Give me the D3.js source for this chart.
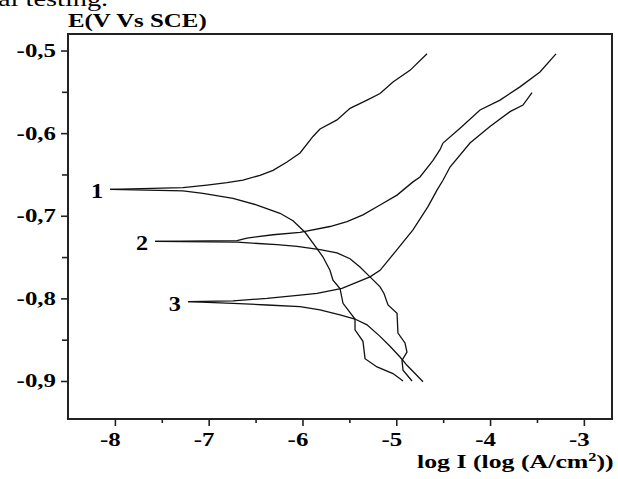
<!DOCTYPE html>
<html><head><meta charset="utf-8">
<script src="https://cdn.jsdelivr.net/npm/d3@7"></script>
<style>body{margin:0;background:#fff} svg{display:block}</style>
</head><body><svg id="c" width="618" height="479"></svg>
<script>
// ---- data (log I in log(A/cm2), E in V vs SCE) ----
const xTicks = [-8, -7, -6, -5, -4, -3];
const xMinorTicks = [-7.5, -6.5, -5.5, -4.5, -3.5];
const yTicks = [-0.5, -0.6, -0.7, -0.8, -0.9];
const yMinorTicks = [-0.55, -0.65, -0.75, -0.85];
const yTickLabels = ["-0,5", "-0,6", "-0,7", "-0,8", "-0,9"];
const curveLabels = ["1", "2", "3"];

const c1Anodic = [[-8.052,-0.668],[-7.274,-0.666],[-7.018,-0.663],[-6.805,-0.660],[-6.634,-0.657],[-6.453,-0.651],
  [-6.314,-0.645],[-6.165,-0.635],[-6.026,-0.624],[-5.888,-0.604],[-5.813,-0.595],[-5.632,-0.584],[-5.493,-0.570],
  [-5.312,-0.560],[-5.173,-0.552],[-5.035,-0.538],[-4.854,-0.524],[-4.672,-0.504]];
const c1Cathodic = [[-8.052,-0.668],[-7.274,-0.670],[-7.061,-0.673],[-6.741,-0.679],[-6.485,-0.687],[-6.240,-0.697],
  [-6.101,-0.706],[-5.973,-0.720],[-5.888,-0.733],[-5.781,-0.750],[-5.707,-0.766],[-5.675,-0.778],[-5.600,-0.788],
  [-5.568,-0.806],[-5.440,-0.825],[-5.440,-0.838],[-5.355,-0.852],[-5.333,-0.873],[-5.205,-0.883],[-5.035,-0.891],[-4.928,-0.900]];
const c2Anodic = [[-7.572,-0.731],[-6.698,-0.730],[-6.591,-0.727],[-6.314,-0.723],[-6.026,-0.720],[-5.707,-0.713],
  [-5.525,-0.707],[-5.355,-0.699],[-5.173,-0.687],[-4.992,-0.675],[-4.822,-0.659],[-4.747,-0.653],[-4.608,-0.633],
  [-4.534,-0.620],[-4.502,-0.612],[-4.320,-0.594],[-4.107,-0.572],[-3.894,-0.560],[-3.681,-0.544],[-3.468,-0.526],[-3.297,-0.504]];
const c2Cathodic = [[-7.572,-0.731],[-6.698,-0.732],[-6.272,-0.735],[-6.058,-0.737],[-5.813,-0.741],[-5.632,-0.745],
  [-5.493,-0.752],[-5.387,-0.762],[-5.280,-0.774],[-5.173,-0.786],[-5.131,-0.794],[-5.088,-0.808],[-4.992,-0.818],
  [-4.982,-0.842],[-4.907,-0.854],[-4.886,-0.865],[-4.939,-0.875],[-4.928,-0.887],[-4.832,-0.900]];
const c3Anodic = [[-7.221,-0.804],[-6.741,-0.803],[-6.378,-0.800],[-6.026,-0.796],[-5.845,-0.794],[-5.579,-0.788],
  [-5.280,-0.774],[-5.173,-0.766],[-4.992,-0.741],[-4.822,-0.717],[-4.662,-0.689],[-4.566,-0.669],[-4.502,-0.657],
  [-4.427,-0.641],[-4.214,-0.612],[-4.001,-0.592],[-3.787,-0.574],[-3.649,-0.566],[-3.553,-0.551]];
const c3Cathodic = [[-7.221,-0.804],[-6.741,-0.806],[-6.378,-0.808],[-6.026,-0.810],[-5.813,-0.814],[-5.600,-0.820],
  [-5.440,-0.825],[-5.312,-0.832],[-5.173,-0.846],[-5.067,-0.858],[-4.960,-0.871],[-4.886,-0.881],[-4.800,-0.891],[-4.715,-0.901]];

const curves = [c1Anodic, c1Cathodic, c2Anodic, c2Cathodic, c3Anodic, c3Cathodic];
const labelAnchors = [c1Anodic[0], c2Anodic[0], c3Anodic[0]];

// ---- drawing ----
const svg = d3.select("#c");
const x = d3.scaleLinear([-8.5, -2.7], [68, 612]);
const y = d3.scaleLinear([-0.946, -0.48], [419, 34]);
const serif = "'Liberation Serif','Times New Roman',serif";
const SX = 1.31;

// cut-off text from the page above
svg.append("text").attr("transform", "translate(-2,6) scale(1.35,1)")
  .attr("font-family", serif).attr("font-size", 21).attr("fill", "#000").text("al testing.");

// axes ticks
const gx = svg.append("g").attr("transform", "translate(0,419)");
gx.call(d3.axisBottom(x).tickValues(xTicks).tickSize(7).tickFormat(""));
gx.append("g").call(d3.axisBottom(x).tickValues(xMinorTicks).tickSize(4).tickFormat(""));
const gy = svg.append("g").attr("transform", "translate(68,0)");
gy.call(d3.axisLeft(y).tickValues(yTicks).tickSize(7).tickFormat(""));
gy.append("g").call(d3.axisLeft(y).tickValues(yMinorTicks).tickSize(6).tickFormat(""));
svg.selectAll(".domain").remove();
svg.selectAll(".tick line").attr("stroke", "#222").attr("stroke-width", 1.6);

// frame
svg.append("rect").attr("x", x(-8.5)).attr("y", y(-0.48))
  .attr("width", x(-2.7) - x(-8.5)).attr("height", y(-0.946) - y(-0.48))
  .attr("fill", "none").attr("stroke", "#222").attr("stroke-width", 2);

// tick labels
svg.append("g").selectAll("text").data(xTicks).join("text")
  .attr("transform", d => `translate(${x(d) - 4.5},446) scale(${SX},1)`)
  .attr("text-anchor", "middle").attr("font-family", serif).attr("font-weight", "bold")
  .attr("font-size", 19).text(d => String(d));
svg.append("g").selectAll("text").data(yTicks).join("text")
  .attr("transform", (d) => `translate(56,${y(d) + 6.5}) scale(${SX},1)`)
  .attr("text-anchor", "end").attr("font-family", serif).attr("font-weight", "bold")
  .attr("font-size", 19).text((d, i) => yTickLabels[i]);

// axis titles
svg.append("text").attr("transform", `translate(68,27) scale(${SX},1)`)
  .attr("font-family", serif).attr("font-weight", "bold").attr("font-size", 19)
  .text("E(V Vs SCE)");
const xt = svg.append("text").attr("transform", "translate(417,468) scale(1.36,1)")
  .attr("font-family", serif).attr("font-weight", "bold").attr("font-size", 19);
xt.append("tspan").text("log I (log (A/cm");
xt.append("tspan").attr("font-size", 12).attr("dy", -7).text("2");
xt.append("tspan").attr("dy", 7).text("))");

// curves
const line = d3.line().x(d => x(d[0])).y(d => y(d[1]));
svg.append("g").selectAll("path").data(curves).join("path")
  .attr("d", line).attr("fill", "none").attr("stroke", "#111").attr("stroke-width", 1.3);

// curve labels
svg.append("g").selectAll("text").data(labelAnchors).join("text")
  .attr("transform", d => `translate(${x(d[0]) - 7},${y(d[1]) + 9}) scale(1.1,1)`)
  .attr("text-anchor", "end").attr("font-family", serif).attr("font-size", 22)
  .attr("font-weight", "bold").text((d, i) => curveLabels[i]);
</script></body></html>
